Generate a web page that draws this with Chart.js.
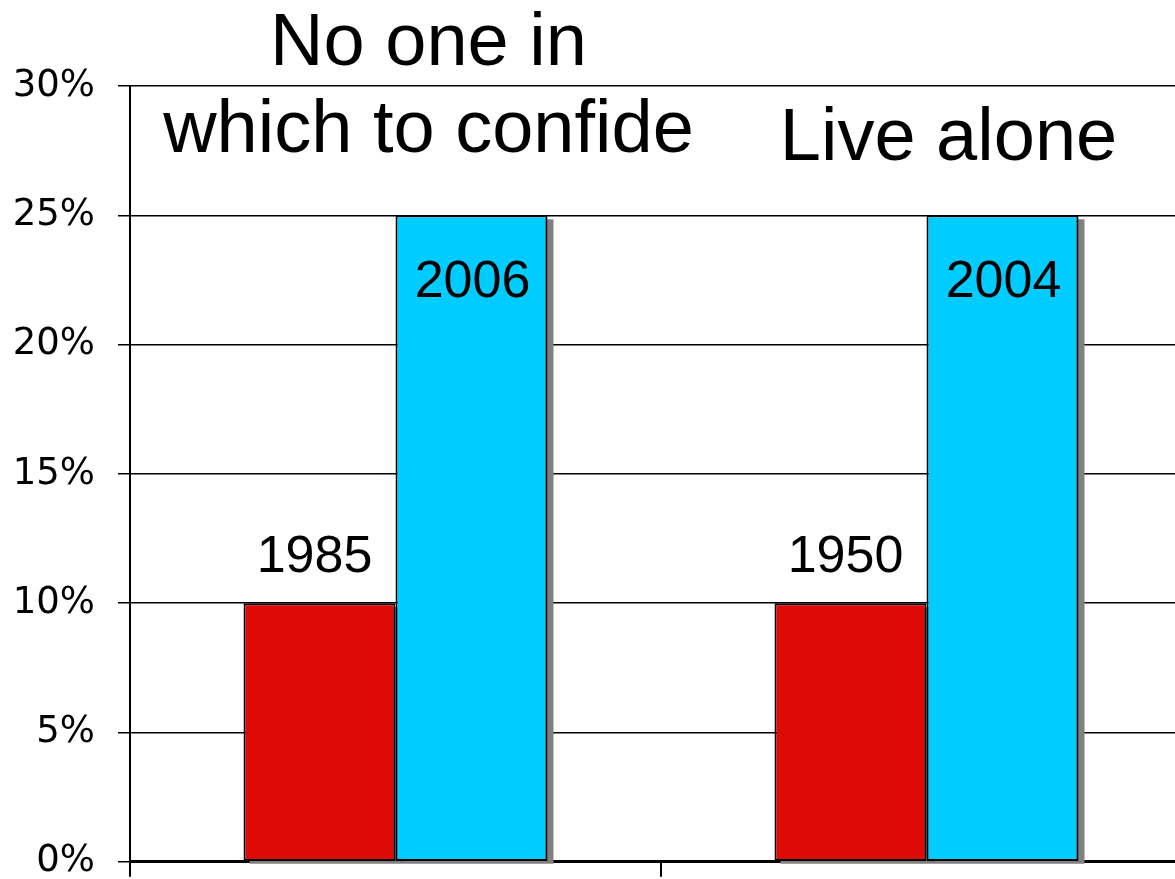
<!DOCTYPE html>
<html>
<head>
<meta charset="utf-8">
<script src="https://cdn.jsdelivr.net/npm/chart.js"></script>
<style>
  html, body { margin: 0; padding: 0; background: #fff; overflow: hidden; }
  #wrap { width: 1200px; height: 907px; }
</style>
</head>
<body>
<div id="wrap"><canvas id="chart"></canvas></div>
<script>
// values
const categories = ['No one in which to confide', 'Live alone'];
const groupTitles = [['No one in', 'which to confide'], ['Live alone']];
const earlyYears = ['1985', '1950'];
const lateYears = ['2006', '2004'];
const earlyValues = [10, 10];
const lateValues = [25, 25];
const yMin = 0, yMax = 30, yStep = 5;

const FONT = '"Liberation Sans", Arial, sans-serif';

// grey drop shadow behind each bar
const barShadow = {
  id: 'barShadow',
  beforeDatasetsDraw(chart) {
    const ctx = chart.ctx, area = chart.chartArea;
    ctx.save();
    ctx.beginPath();
    ctx.rect(area.left, area.top, area.right - area.left, area.bottom - area.top + 2);
    ctx.clip();
    ctx.fillStyle = '#808080';
    chart.data.datasets.forEach((ds, i) => {
      chart.getDatasetMeta(i).data.forEach(bar => {
        const left = bar.x - bar.width / 2;
        ctx.fillRect(left + 6, bar.y + 4, bar.width, bar.base - bar.y);
      });
    });
    ctx.restore();
  }
};

// year labels on bars + the big group titles
const labelsPlugin = {
  id: 'labelsPlugin',
  afterDatasetsDraw(chart) {
    const ctx = chart.ctx;
    const top = chart.chartArea.top;
    const xs = chart.scales.x;
    ctx.save();
    ctx.fillStyle = '#000';
    ctx.textAlign = 'center';
    ctx.textBaseline = 'alphabetic';

    ctx.font = '52px ' + FONT;
    chart.getDatasetMeta(0).data.forEach((bar, i) => {
      ctx.fillText(earlyYears[i], bar.x - 5, bar.y - 31);
    });
    chart.getDatasetMeta(1).data.forEach((bar, i) => {
      ctx.fillText(lateYears[i], bar.x + 1, bar.y + 82);
    });

    ctx.font = '74px ' + FONT;
    const titleShift = [33, 22];
    groupTitles.forEach((lines, i) => {
      const cx = xs.getPixelForValue(i) + titleShift[i];
      if (lines.length === 2) {
        ctx.fillText(lines[0], cx, top - 21);
        ctx.fillText(lines[1], cx, top + 66);
      } else {
        ctx.fillText(lines[0], cx, top + 74);
      }
    });
    ctx.restore();
  }
};

new Chart(document.getElementById('chart'), {
  type: 'bar',
  data: {
    labels: categories,
    datasets: [
      {
        label: 'Earlier',
        data: earlyValues,
        backgroundColor: '#dd0a06',
        borderColor: '#000',
        borderWidth: 2,
        borderSkipped: false
      },
      {
        label: 'Later',
        data: lateValues,
        backgroundColor: '#00ccff',
        borderColor: '#000',
        borderWidth: 2,
        borderSkipped: false
      }
    ]
  },
  plugins: [barShadow, labelsPlugin],
  options: {
    responsive: true,
    maintainAspectRatio: false,
    animation: false,
    layout: { padding: { top: 86, right: 8, bottom: 0, left: 0 } },
    plugins: {
      legend: { display: false },
      tooltip: { enabled: false },
      title: { display: false }
    },
    datasets: {
      bar: { categoryPercentage: 0.5725, barPercentage: 1 }
    },
    scales: {
      x: {
        afterFit: s => { s.height = 19; },
        grid: {
          offset: true,
          drawOnChartArea: false,
          drawTicks: true,
          tickLength: 15,
          color: '#000',
          lineWidth: 2
        },
        border: { display: true, color: '#000', width: 3 },
        ticks: { display: false }
      },
      y: {
        min: yMin,
        max: yMax,
        afterFit: s => { s.width = 130; },
        ticks: {
          stepSize: yStep,
          padding: 23,
          color: '#000',
          font: { family: '"DejaVu Sans", sans-serif', size: 37 },
          callback: v => v + '%'
        },
        grid: {
          color: '#000',
          lineWidth: 1.5,
          tickLength: 12
        },
        border: { display: true, color: '#000', width: 2 }
      }
    }
  }
});
</script>
</body>
</html>
